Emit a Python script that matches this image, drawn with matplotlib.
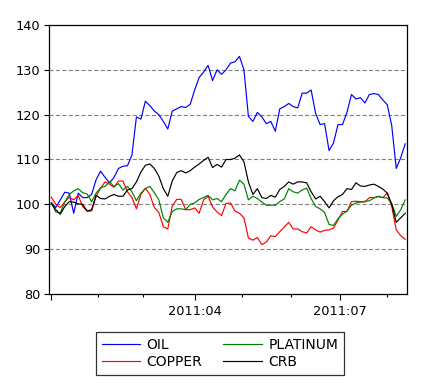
import numpy as np
import pandas as pd
import matplotlib
matplotlib.use("Agg")
import matplotlib.pyplot as plt
from matplotlib.ticker import FixedLocator, NullFormatter

plt.rcParams['font.family'] = ['DejaVu Sans']
plt.rcParams['lines.scale_dashes'] = False

# Business days 2011-01-03 .. ; data sampled every 2nd business day
bdays = pd.bdate_range('2011-01-03', periods=160)
sample_idx = np.arange(0, 160, 2)

oil = [100.4, 99.3, 101.0, 102.7, 102.5, 98.0, 102.5, 101.5, 101.5, 102.2,
       105.5, 107.4, 106.0, 104.8, 106.0, 108.0, 108.5, 108.6, 111.0, 119.5,
       119.0, 123.0, 122.0, 120.8, 120.0, 118.5, 116.8, 120.8, 121.3, 121.8,
       121.6, 122.3, 125.5, 128.3, 129.5, 131.0, 127.6, 130.0, 129.0, 130.0,
       131.5, 131.8, 133.0, 130.0, 119.6, 118.5, 120.5, 119.5, 118.0, 118.5,
       116.3, 121.3, 121.8, 122.5, 121.8, 121.5, 124.8, 124.8, 125.5, 120.3,
       117.8, 118.0, 112.0, 113.7, 117.8, 117.8, 120.5, 124.5, 123.5, 123.8,
       122.6, 124.5, 124.7, 124.5, 123.3, 122.2, 117.5, 108.0, 110.4, 113.5]

copper = [101.6, 100.0, 99.3, 100.5, 101.6, 101.0, 102.0, 99.5, 98.5, 98.5,
          101.8, 103.6, 105.0, 104.5, 103.8, 105.2, 105.2, 102.8, 101.5, 99.0,
          102.2, 103.6, 102.2, 99.3, 98.2, 95.0, 94.5, 99.6, 101.1, 101.1,
          98.8, 98.8, 99.2, 98.0, 101.0, 101.8, 99.4, 98.3, 97.5, 100.2,
          100.3, 98.5, 98.0, 97.0, 92.5, 92.0, 92.6, 91.0, 91.6, 93.0,
          92.8, 93.9, 94.9, 96.0, 94.5, 94.5, 93.9, 93.6, 95.0, 94.3,
          93.8, 94.2, 94.3, 94.7, 96.5, 98.4, 98.4, 100.6, 100.7, 100.6,
          100.5, 101.5, 101.5, 101.7, 101.5, 102.5, 99.5, 94.3, 93.0, 92.2]

platinum = [100.4, 98.3, 98.1, 100.5, 102.2, 103.0, 103.5, 102.6, 102.3, 100.6,
            102.5, 103.7, 104.0, 105.0, 104.0, 104.6, 103.2, 104.0, 102.8, 100.8,
            102.5, 103.5, 104.0, 102.6, 101.0, 97.0, 96.0, 98.4, 99.0, 99.0,
            98.8, 100.0, 100.3, 101.1, 101.5, 102.0, 101.0, 101.3, 100.6, 102.2,
            103.5, 103.0, 105.4, 104.5, 101.0, 101.8, 101.3, 100.5, 99.8, 99.8,
            99.8, 100.6, 101.2, 103.5, 102.8, 102.5, 103.2, 103.6, 101.3, 99.5,
            99.0, 98.2, 95.5, 95.3, 96.8, 97.8, 98.5, 99.8, 100.3, 100.5,
            100.7, 100.8, 101.4, 101.8, 101.5, 101.4, 100.2, 97.3, 98.8, 101.0]

crb = [100.2, 98.8, 97.8, 99.5, 100.6, 100.5, 100.1, 100.0, 98.5, 98.8,
       102.0, 101.3, 101.2, 101.8, 102.2, 101.8, 101.8, 103.2, 103.5, 105.0,
       107.2, 108.7, 109.0, 108.0, 106.3, 103.5, 101.8, 105.2, 107.1, 107.5,
       107.0, 107.5, 108.3, 109.0, 109.8, 110.5, 108.2, 108.9, 108.3, 110.0,
       110.0, 110.3, 111.0, 109.5, 105.0, 102.2, 103.5, 101.5, 101.3, 102.0,
       101.6, 103.3, 104.0, 105.0, 104.5, 105.0, 105.0, 104.8, 102.8, 101.2,
       101.8, 100.6, 99.2, 100.8, 101.7, 102.2, 103.5, 103.3, 104.8, 104.1,
       104.0, 104.3, 104.5, 104.0, 103.4, 102.5, 100.0, 96.0, 97.0, 98.0]

series_names = ['OIL', 'COPPER', 'PLATINUM', 'CRB']
series_colors = ['#0000ff', '#ff0000', '#008000', '#000000']
y_ticks = [80, 90, 100, 110, 120, 130, 140]
grid_levels = [90, 100, 110, 120, 130]
labelled_months = {'2011-04': '2011:04', '2011-07': '2011:07'}

fig = plt.figure(figsize=(4.40, 3.91), dpi=100)
ax = fig.add_axes([49/440, 97/391, 358/440, 269/391])

lines = {}
for name, vals, col in zip(series_names, [oil, copper, platinum, crb], series_colors):
    ln, = ax.plot(sample_idx, vals, color=col, lw=0.85, label=name)
    lines[name] = ln

for g in grid_levels:
    ax.axhline(g, color='#808080', lw=0.8, ls=(0, (3.0, 1.6)), zorder=0)

ax.set_ylim(80, 140)
ax.set_xlim(-1.03, 158.8)
ax.set_yticks(y_ticks)

# month starts (business-day index)
months = pd.Series(np.arange(len(bdays)), index=bdays)
month_start = months.groupby(bdays.to_period('M')).first()
major_pos, major_lab, minor_pos = [], [], []
for per, pos in month_start.items():
    key = str(per)
    if per.month in (1, 4, 7):
        major_pos.append(pos)
        major_lab.append(labelled_months.get(key, ''))
    else:
        minor_pos.append(pos)
ax.xaxis.set_major_locator(FixedLocator(major_pos))
ax.set_xticklabels(major_lab)
ax.xaxis.set_minor_locator(FixedLocator(minor_pos))
ax.xaxis.set_minor_formatter(NullFormatter())

ax.tick_params(axis='x', which='major', length=4.5, width=0.8, pad=3.5, labelsize=9.3)
ax.tick_params(axis='x', which='minor', length=2.2, width=0.8)
ax.tick_params(axis='y', which='major', length=3.8, width=0.8, pad=2.5, labelsize=9.3)
for sp in ax.spines.values():
    sp.set_linewidth(0.9)

order = ['OIL', 'COPPER', 'PLATINUM', 'CRB']
leg = fig.legend([lines[n] for n in order], order, loc='upper left',
                 bbox_to_anchor=(96/440, 1 - 332/391), ncol=2, fontsize=10,
                 frameon=True, fancybox=False, edgecolor='black',
                 handlelength=2.8, handletextpad=0.45, columnspacing=1.5,
                 labelspacing=0.25, borderpad=0.4, borderaxespad=0.0)
leg.get_frame().set_linewidth(0.9)

fig.savefig('out.png', dpi=100)
